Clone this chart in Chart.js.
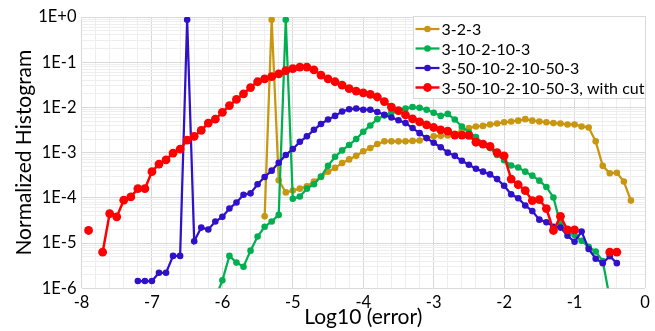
<!DOCTYPE html>
<html>
<head>
<meta charset="utf-8">
<script src="https://cdn.jsdelivr.net/npm/chart.js@4.4.1/dist/chart.umd.min.js"></script>
<style>
  body { margin: 0; background: #fff; }
  #chart { display: block; }
</style>
</head>
<body>
<canvas id="chart" width="655" height="331"></canvas>
<script>
// bin centres, log10(error)
const bins = [
  -7.9, -7.8, -7.7, -7.6, -7.5, -7.4, -7.3, -7.2, -7.1, -7.0,
  -6.9, -6.8, -6.7, -6.6, -6.5, -6.4, -6.3, -6.2, -6.1, -6.0,
  -5.9, -5.8, -5.7, -5.6, -5.5, -5.4, -5.3, -5.2, -5.1, -5.0,
  -4.9, -4.8, -4.7, -4.6, -4.5, -4.4, -4.3, -4.2, -4.1, -4.0,
  -3.9, -3.8, -3.7, -3.6, -3.5, -3.4, -3.3, -3.2, -3.1, -3.0,
  -2.9, -2.8, -2.7, -2.6, -2.5, -2.4, -2.3, -2.2, -2.1, -2.0,
  -1.9, -1.8, -1.7, -1.6, -1.5, -1.4, -1.3, -1.2, -1.1, -1.0,
  -0.9, -0.8, -0.7, -0.6, -0.5, -0.4, -0.3, -0.2
];

const net323 = [
  null, null, null, null, null, null, null, null, null, null,
  null, null, null, null, null, null, null, null, null, null,
  null, null, null, null, null, 3.9e-5, 0.87, 2.45e-4, 1.32e-4, 1.45e-4,
  1.6e-4, 1.8e-4, 2.3e-4, 2.9e-4, 3.8e-4, 4.6e-4, 5.9e-4, 7.1e-4, 8.5e-4, 1.07e-3,
  1.26e-3, 1.55e-3, 1.78e-3, 1.78e-3, 1.78e-3, 1.78e-3, 1.82e-3, 1.86e-3, 2.1e-3, 2.3e-3,
  2.35e-3, 2.4e-3, 2.6e-3, 3.2e-3, 3.5e-3, 3.8e-3, 3.9e-3, 4.2e-3, 4.4e-3, 4.7e-3,
  4.9e-3, 5.1e-3, 5.5e-3, 5.1e-3, 4.9e-3, 4.7e-3, 4.5e-3, 4.4e-3, 4.2e-3, 4.2e-3,
  3.8e-3, 3.6e-3, 1.78e-3, 5.1e-4, 3.5e-4, 3.6e-4, 2.3e-4, 8.7e-5
];

const net3102103 = [
  null, null, null, null, null, null, null, null, null, null,
  null, null, null, null, null, null, null, null, 6e-7, 1.5e-6,
  5.2e-6, 3.7e-6, 3.0e-6, 6.8e-6, 1.4e-5, 2.3e-5, 3.0e-5, 4.2e-5, 0.87, 9.5e-5,
  1.07e-4, 1.6e-4, 2.0e-4, 2.95e-4, 5.1e-4, 8.1e-4, 1.12e-3, 1.48e-3, 2.0e-3, 2.9e-3,
  4.0e-3, 5.5e-3, 6.6e-3, 7.8e-3, 8.5e-3, 9.5e-3, 1.02e-2, 9.8e-3, 8.9e-3, 7.6e-3,
  6.5e-3, 7.2e-3, 5.4e-3, 3.8e-3, 2.8e-3, 2.2e-3, 1.62e-3, 1.26e-3, 8.9e-4, 6.8e-4,
  5.2e-4, 4.7e-4, 3.8e-4, 3.1e-4, 2.4e-4, 1.74e-4, 1.02e-4, 2.6e-5, 1.8e-5, 1.5e-5,
  1.12e-5, 8.3e-6, 6.5e-6, 4.0e-6, 6e-7, null, null, null
];

const net350 = [
  null, null, null, null, null, null, null, 1.45e-6, 1.45e-6, 1.45e-6,
  2.2e-6, 2.2e-6, 5.2e-6, 5.2e-6, 0.87, 1.1e-5, 2.2e-5, 2.0e-5, 3.0e-5, 3.8e-5,
  5.8e-5, 7.9e-5, 1.17e-4, 1.26e-4, 2.0e-4, 2.9e-4, 4.0e-4, 6.0e-4, 8.9e-4, 1.2e-3,
  1.74e-3, 2.3e-3, 3.2e-3, 4.3e-3, 5.4e-3, 6.5e-3, 8.1e-3, 9.1e-3, 9.5e-3, 8.9e-3,
  8.9e-3, 7.9e-3, 6.9e-3, 6.0e-3, 5.2e-3, 4.5e-3, 3.5e-3, 2.7e-3, 2.1e-3, 1.66e-3,
  1.32e-3, 1.0e-3, 8.5e-4, 6.6e-4, 5.4e-4, 4.4e-4, 3.8e-4, 3.3e-4, 2.6e-4, 1.86e-4,
  1.2e-4, 9.8e-5, 6.8e-5, 5.1e-5, 3.3e-5, 2.9e-5, 2.3e-5, 2.2e-5, 1.45e-5, 1.07e-5,
  1.8e-5, 7.4e-6, 4.5e-6, 3.6e-6, 5.1e-6, 3.6e-6, null, null
];

const net350Cut = [
  1.9e-5, null, 6.3e-6, 4.5e-5, 3.8e-5, 8.9e-5, 1.05e-4, 1.6e-4, 1.6e-4, 3.8e-4,
  5.6e-4, 6.9e-4, 9.8e-4, 1.2e-3, 1.9e-3, 2.3e-3, 3.1e-3, 4.5e-3, 5.5e-3, 7.8e-3,
  1.1e-2, 1.5e-2, 2.0e-2, 2.75e-2, 3.7e-2, 4.3e-2, 4.8e-2, 5.5e-2, 6.5e-2, 7.2e-2,
  7.8e-2, 7.8e-2, 6.8e-2, 5.2e-2, 4.3e-2, 3.7e-2, 3.1e-2, 2.6e-2, 2.3e-2, 2.1e-2,
  1.95e-2, 1.7e-2, 1.35e-2, 1.02e-2, 8.5e-3, 6.8e-3, 5.6e-3, 4.8e-3, 4.1e-3, 3.6e-3,
  3.2e-3, 3.0e-3, 2.45e-3, 2.45e-3, 2.4e-3, 1.7e-3, 1.55e-3, 1.38e-3, 1.0e-3, 8.5e-4,
  2.6e-4, 1.95e-4, 1.45e-4, 8.7e-5, 9.1e-5, 5.8e-5, 1.9e-5, 3.9e-5, 1.95e-5, 1.95e-5,
  null, null, null, null, 6.3e-6, 6.3e-6, null, null
];

const seriesNames = ['3-2-3', '3-10-2-10-3', '3-50-10-2-10-50-3', '3-50-10-2-10-50-3, with cut'];
const seriesColors = ['#C8960F', '#00B050', '#3010C8', '#FF0000'];

// y axis tick values: decades 1E-6 .. 1E+0 plus the minor 2..9 steps
const yDecades = [-6, -5, -4, -3, -2, -1, 0];
const xMin = -8, xMax = 0;

const FONT = 'Lato, "Open Sans", sans-serif';
const GRID_MAJOR = '#D9D9D9';
const GRID_MINOR = '#EEEEEE';

function toPoints(vals) {
    return bins.map((b, i) => ({ x: b, y: vals[i] }));
}

function isDecade(v) {
    const e = Math.log10(v);
    return Math.abs(e - Math.round(e)) < 1e-6;
}

function mkSet(i, vals, radius, width, order) {
    return {
        label: seriesNames[i],
        data: toPoints(vals),
        borderColor: seriesColors[i],
        backgroundColor: seriesColors[i],
        pointBackgroundColor: seriesColors[i],
        pointBorderColor: seriesColors[i],
        pointBorderWidth: 0,
        pointRadius: radius,
        borderWidth: width,
        spanGaps: false,
        tension: 0,
        order: order
    };
}

// legend drawn inside the plot, top right, like the original
const insideLegend = {
    id: 'insideLegend',
    afterDraw(chart) {
        const ctx = chart.ctx;
        const bx = 413.5, by = 16.5, bw = 232, bh = 82;
        ctx.save();
        ctx.fillStyle = '#fff';
        ctx.fillRect(bx, by, bw, bh);
        ctx.strokeStyle = GRID_MAJOR;
        ctx.lineWidth = 1;
        ctx.strokeRect(bx, by, bw, bh);
        ctx.font = '16px ' + FONT;
        ctx.textBaseline = 'middle';
        ctx.textAlign = 'left';
        chart.data.datasets.forEach((ds, i) => {
            const y = by + 12.5 + i * 19.5;
            const x0 = bx + 2;
            ctx.strokeStyle = ds.borderColor;
            ctx.lineWidth = ds.borderWidth;
            ctx.beginPath();
            ctx.moveTo(x0, y);
            ctx.lineTo(x0 + 24, y);
            ctx.stroke();
            ctx.fillStyle = ds.borderColor;
            ctx.beginPath();
            ctx.arc(x0 + 12, y, ds.pointRadius, 0, Math.PI * 2);
            ctx.fill();
            ctx.fillStyle = '#000';
            ctx.fillText(ds.label, x0 + 26, y + 1);
        });
        ctx.restore();
    }
};

const config = {
    type: 'line',
    data: {
        datasets: [
            mkSet(0, net323, 3.3, 2.25, 3),
            mkSet(1, net3102103, 3.3, 2.25, 2),
            mkSet(2, net350, 3.3, 2.25, 1),
            mkSet(3, net350Cut, 4.4, 2.5, 0)
        ]
    },
    options: {
        responsive: false,
        animation: false,
        layout: { padding: { top: 17, right: 10, left: 0, bottom: 0 } },
        plugins: {
            legend: { display: false },
            tooltip: { enabled: false }
        },
        scales: {
            x: {
                type: 'linear',
                min: xMin,
                max: xMax,
                afterFit: (s) => { s.height = 42.7; },
                grid: {
                    drawTicks: false,
                    color: (c) => (c.tick && Math.abs(c.tick.value - Math.round(c.tick.value)) < 1e-6) ? GRID_MAJOR : GRID_MINOR
                },
                border: { display: false },
                ticks: {
                    stepSize: 0.2,
                    autoSkip: false,
                    maxRotation: 0,
                    padding: 4,
                    color: '#000',
                    font: { family: FONT, size: 16.5 },
                    callback: (v) => Math.abs(v - Math.round(v)) < 1e-6 ? String(Math.round(v)) : ''
                },
                title: {
                    display: true,
                    text: 'Log10 (error)',
                    color: '#000',
                    font: { family: FONT, size: 21 },
                    padding: { top: 0, bottom: 1 }
                }
            },
            y: {
                type: 'logarithmic',
                min: 1e-6,
                max: 1,
                afterFit: (s) => { s.width = 81.5; },
                afterBuildTicks: (s) => {
                    const t = [];
                    yDecades.forEach((e) => {
                        const top = e === 0 ? 1 : 9;
                        for (let m = 1; m <= top; m++) t.push({ value: m * Math.pow(10, e) });
                    });
                    s.ticks = t;
                },
                grid: {
                    drawTicks: false,
                    color: (c) => (c.tick && isDecade(c.tick.value)) ? GRID_MAJOR : GRID_MINOR
                },
                border: { display: false },
                ticks: {
                    autoSkip: false,
                    padding: 5,
                    color: '#000',
                    font: { family: FONT, size: 16.5 },
                    callback: (v) => {
                        if (!isDecade(v)) return '';
                        const e = Math.round(Math.log10(v));
                        return '1E' + (e >= 0 ? '+' : '') + e;
                    }
                },
                title: {
                    display: true,
                    text: 'Normalized Histogram',
                    color: '#000',
                    font: { family: FONT, size: 21 },
                    padding: { top: 12, bottom: 0 }
                }
            }
        }
    },
    plugins: [insideLegend]
};

const lineChart = new Chart(document.getElementById('chart'), config);
</script>
</body>
</html>
